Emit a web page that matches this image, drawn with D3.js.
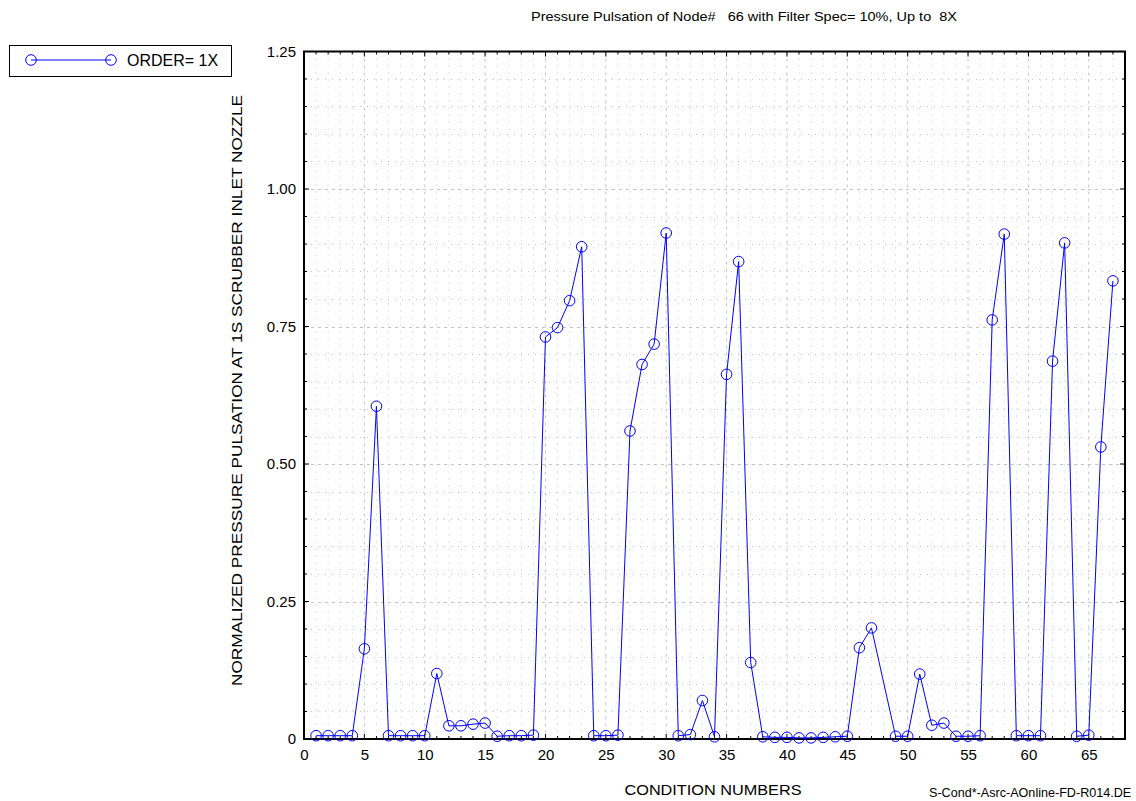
<!DOCTYPE html>
<html>
<head>
<meta charset="utf-8">
<script src="https://cdn.jsdelivr.net/npm/d3@7"></script>
<style>
  body { margin: 0; background: #fff; }
  svg { display: block; font-family: "Liberation Sans", Arial, sans-serif; }
</style>
</head>
<body>
<svg id="chart" width="1136" height="801"></svg>
<script>
// ---- data ----
const conditions = [1,2,3,4,5,6,7,8,9,10,11,12,13,14,15,16,17,18,19,20,21,22,23,24,25,26,27,28,29,30,31,32,33,34,35,36,37,38,39,40,41,42,43,44,45,46,47,49,50,51,52,53,54,55,56,57,58,59,60,61,62,63,64,65,66,67];
const order1X = [0.006,0.006,0.006,0.006,0.164,0.605,0.006,0.006,0.006,0.006,0.119,0.024,0.024,0.027,0.029,0.005,0.006,0.006,0.007,0.731,0.748,0.797,0.895,0.006,0.006,0.007,0.560,0.681,0.718,0.920,0.006,0.008,0.070,0.004,0.663,0.868,0.139,0.004,0.003,0.003,0.002,0.002,0.003,0.004,0.005,0.166,0.202,0.005,0.005,0.118,0.025,0.029,0.005,0.005,0.006,0.762,0.918,0.006,0.006,0.006,0.687,0.902,0.005,0.007,0.531,0.833];
const xTicks = [0,5,10,15,20,25,30,35,40,45,50,55,60,65];
const yTicks = [0,0.25,0.5,0.75,1.0,1.25];
const yTickLabels = ["0","0.25","0.50","0.75","1.00","1.25"];
const titleText = "Pressure Pulsation of Node#   66 with Filter Spec= 10%, Up to  8X";
const xLabel = "CONDITION NUMBERS";
const yLabel = "NORMALIZED PRESSURE PULSATION AT 1S SCRUBBER INLET NOZZLE";
const seriesName = "ORDER= 1X";
const footnote = "S-Cond*-Asrc-AOnline-FD-R014.DE";

// ---- layout ----
const L = 304, R = 1125, T = 51.5, B = 739;
const svg = d3.select("#chart");
const x = d3.scaleLinear().domain([0, 68]).range([L, R]);
const y = d3.scaleLinear().domain([0, 1.25]).range([B, T]);
const blue = "#0000ff";

// grid
const g = svg.append("g");
const xMinor = d3.range(1, 68);
const yMinor = d3.range(1, 25).map(i => i * 0.05);
g.selectAll("line.vx").data(xMinor).join("line")
  .attr("x1", d => x(d)).attr("x2", d => x(d)).attr("y1", T).attr("y2", B)
  .attr("stroke", "#c4c4c4").attr("stroke-width", 1)
  .attr("stroke-dasharray", d => d % 5 === 0 ? "3,4" : "1,6");
g.selectAll("line.hy").data(yMinor).join("line")
  .attr("y1", d => Math.round(y(d)) + 0.5).attr("y2", d => Math.round(y(d)) + 0.5).attr("x1", L).attr("x2", R)
  .attr("stroke", "#c4c4c4").attr("stroke-width", 1)
  .attr("stroke-dasharray", (d, i) => (i + 1) % 5 === 0 ? "3,4" : "1,6");

// inner ticks
const tk = svg.append("g").attr("stroke", "#000").attr("stroke-width", 1);
d3.range(1, 68).forEach(v => {
  const len = v % 5 === 0 ? 5 : 3;
  tk.append("line").attr("x1", x(v)).attr("x2", x(v)).attr("y1", B).attr("y2", B - len);
  tk.append("line").attr("x1", x(v)).attr("x2", x(v)).attr("y1", T).attr("y2", T + len);
});
yMinor.forEach((v, i) => {
  const len = (i + 1) % 5 === 0 ? 5 : 3;
  tk.append("line").attr("y1", y(v)).attr("y2", y(v)).attr("x1", L).attr("x2", L + len);
  tk.append("line").attr("y1", y(v)).attr("y2", y(v)).attr("x1", R).attr("x2", R - len);
});

// frame
svg.append("rect").attr("x", L).attr("y", T).attr("width", R - L).attr("height", B - T)
  .attr("fill", "none").attr("stroke", "#000").attr("stroke-width", 2);

// axes labels via d3 axes (no domain line)
const xAxis = svg.append("g").attr("transform", `translate(0,${B})`)
  .call(d3.axisBottom(x).tickValues(xTicks).tickSize(0).tickPadding(10).tickFormat(d3.format("d")));
xAxis.select(".domain").remove();
xAxis.selectAll("text").attr("font-size", 15).attr("fill", "#000").attr("font-family", "Liberation Sans, Arial, sans-serif");

const yAxis = svg.append("g").attr("transform", `translate(${L},0)`)
  .call(d3.axisLeft(y).tickValues(yTicks).tickSize(0).tickPadding(8).tickFormat((d, i) => yTickLabels[i]));
yAxis.select(".domain").remove();
yAxis.selectAll("text").attr("font-size", 15).attr("fill", "#000").attr("font-family", "Liberation Sans, Arial, sans-serif");

// series
const pts = conditions.map((c, i) => [c, order1X[i]]);
svg.append("path").datum(pts)
  .attr("d", d3.line().x(d => x(d[0])).y(d => y(d[1])))
  .attr("fill", "none").attr("stroke", blue).attr("stroke-width", 1);
svg.selectAll("circle.pt").data(pts).join("circle")
  .attr("cx", d => x(d[0])).attr("cy", d => y(d[1])).attr("r", 5.3)
  .attr("fill", "none").attr("stroke", blue).attr("stroke-width", 1);

// title
svg.append("text").attr("x", 744).attr("y", 21).attr("text-anchor", "middle")
  .attr("font-size", 13.5).attr("textLength", 426).attr("lengthAdjust", "spacingAndGlyphs")
  .style("white-space", "pre").text(titleText);

// x label
svg.append("text").attr("x", 713).attr("y", 795).attr("text-anchor", "middle")
  .attr("font-size", 15.5).attr("textLength", 177).attr("lengthAdjust", "spacingAndGlyphs").text(xLabel);

// footnote
svg.append("text").attr("x", 929).attr("y", 797).attr("font-size", 12.6).text(footnote);

// y label
svg.append("text").attr("transform", `translate(242,${(95 + 686) / 2}) rotate(-90)`)
  .attr("text-anchor", "middle").attr("font-size", 15.5)
  .attr("textLength", 591).attr("lengthAdjust", "spacingAndGlyphs").text(yLabel);

// legend
const lg = svg.append("g");
lg.append("rect").attr("x", 9.5).attr("y", 45.5).attr("width", 222).attr("height", 31)
  .attr("fill", "#fff").attr("stroke", "#000").attr("stroke-width", 1);
lg.append("line").attr("x1", 31).attr("x2", 111).attr("y1", 60).attr("y2", 60).attr("stroke", blue);
lg.selectAll("circle").data([31, 111]).join("circle").attr("cx", d => d).attr("cy", 60).attr("r", 5.3)
  .attr("fill", "none").attr("stroke", blue);
lg.append("text").attr("x", 127).attr("y", 66).attr("font-size", 16).text(seriesName);
</script>
</body>
</html>
